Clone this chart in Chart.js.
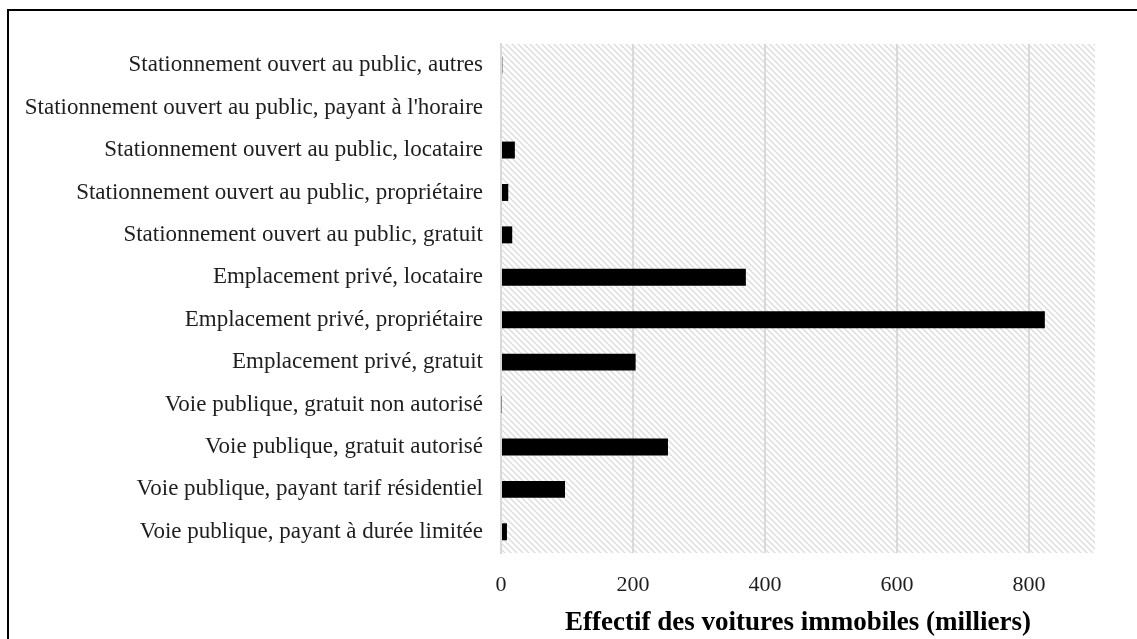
<!DOCTYPE html>
<html>
<head>
<meta charset="utf-8">
<script src="https://cdn.jsdelivr.net/npm/chart.js@4/dist/chart.umd.min.js"></script>
<style>
html,body{margin:0;padding:0;background:#fff;}
#wrap{width:1137px;height:639px;position:relative;}
</style>
</head>
<body>
<div id="wrap"><canvas id="c" width="1137" height="639"></canvas></div>
<script>
const categories = [
  "Stationnement ouvert au public, autres",
  "Stationnement ouvert au public, payant à l'horaire",
  "Stationnement ouvert au public, locataire",
  "Stationnement ouvert au public, propriétaire",
  "Stationnement ouvert au public, gratuit",
  "Emplacement privé, locataire",
  "Emplacement privé, propriétaire",
  "Emplacement privé, gratuit",
  "Voie publique, gratuit non autorisé",
  "Voie publique, gratuit autorisé",
  "Voie publique, payant tarif résidentiel",
  "Voie publique, payant à durée limitée"
];
const effectifs = [2, 0, 21, 11, 17, 371, 824, 204, 1, 253, 97, 9];
const xTicks = [0, 200, 400, 600, 800];
const xMax = 900;
const xTitle = "Effectif des voitures immobiles (milliers)";

const FONT = "'Liberation Serif', 'Times New Roman', serif";

function makeHatch() {
  const p = 6;
  const c = document.createElement('canvas');
  c.width = p; c.height = p;
  const g = c.getContext('2d');
  g.fillStyle = '#ffffff';
  g.fillRect(0, 0, p, p);
  g.strokeStyle = '#dcdcdc';
  g.lineWidth = 1.4;
  g.beginPath();
  g.moveTo(0, 0); g.lineTo(p, p);
  g.moveTo(-p, 0); g.lineTo(p, 2 * p);
  g.moveTo(0, -p); g.lineTo(2 * p, p);
  g.stroke();
  return c;
}

const bgPlugin = {
  id: 'bg',
  beforeDraw(chart) {
    const ctx = chart.ctx;
    const a = chart.chartArea;
    ctx.save();
    ctx.fillStyle = '#fff';
    ctx.fillRect(0, 0, chart.width, chart.height);
    ctx.fillStyle = ctx.createPattern(makeHatch(), 'repeat');
    ctx.fillRect(a.left, a.top, a.right - a.left, a.bottom - a.top);
    ctx.strokeStyle = '#000';
    ctx.lineWidth = 2;
    ctx.beginPath();
    ctx.moveTo(8, 700); ctx.lineTo(8, 10); ctx.lineTo(1200, 10);
    ctx.stroke();
    ctx.restore();
  }
};

new Chart(document.getElementById('c'), {
  type: 'bar',
  data: {
    labels: categories,
    datasets: [{
      data: effectifs,
      backgroundColor: '#000000',
      borderWidth: 0,
      barPercentage: 0.4,
      categoryPercentage: 1.0
    }]
  },
  options: {
    indexAxis: 'y',
    responsive: false,
    animation: false,
    layout: { padding: { left: 0, right: 42, top: 44, bottom: 0 } },
    plugins: { legend: { display: false }, tooltip: { enabled: false } },
    scales: {
      x: {
        min: 0, max: xMax,
        afterBuildTicks(scale) { scale.ticks = xTicks.map(v => ({ value: v })); },
        afterFit(scale) { scale.height = 86; },
        grid: { color: '#d9d9d9', lineWidth: 2, drawTicks: false },
        border: { display: false },
        ticks: { color: '#1e1e1e', padding: 19, font: { family: FONT, size: 22 } },
        title: {
          display: true, text: xTitle, color: '#000',
          font: { family: FONT, size: 27, weight: 'bold' },
          padding: { top: 0, bottom: 0 }
        }
      },
      y: {
        afterFit(scale) { scale.width = 501; },
        grid: { display: false, drawTicks: false },
        border: { display: true, color: '#d9d9d9', width: 2 },
        ticks: { color: '#1e1e1e', padding: 18, autoSkip: false, font: { family: FONT, size: 23 } }
      }
    }
  },
  plugins: [bgPlugin]
});
</script>
</body>
</html>
